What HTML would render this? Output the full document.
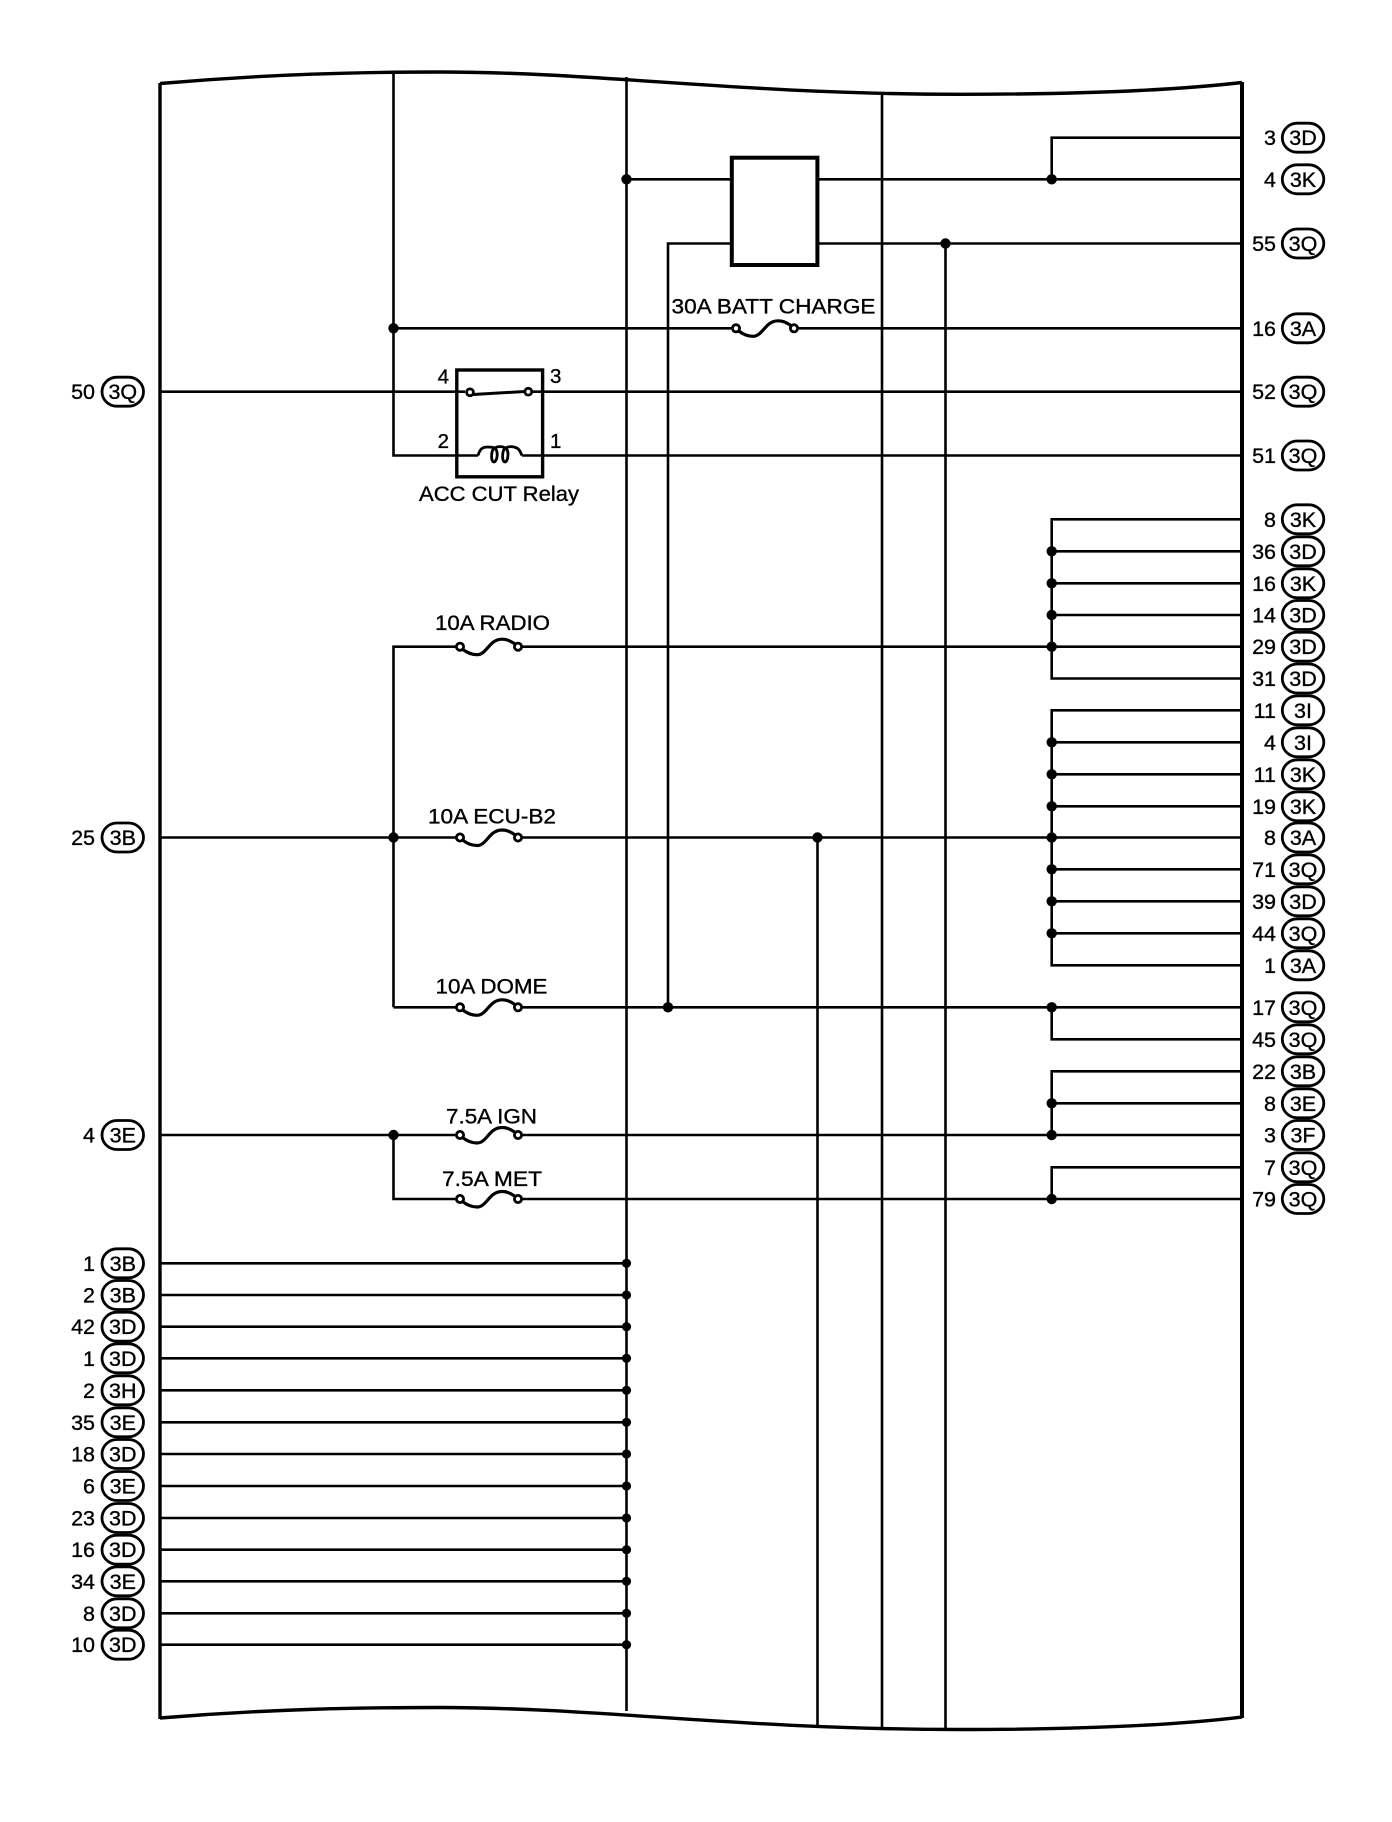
<!DOCTYPE html>
<html><head><meta charset="utf-8"><style>
html,body{margin:0;padding:0;background:#fff}
svg{display:block}
text{font-family:"Liberation Sans",sans-serif;font-size:21.5px;fill:#000;stroke:#000;stroke-width:.35}
.c{text-anchor:middle}.e{text-anchor:end}
</style></head><body>
<svg width="1392" height="1822" viewBox="0 0 1392 1822" xmlns="http://www.w3.org/2000/svg">
<defs>
<g id="f" fill="none" stroke="#000" stroke-width="2.8"><circle cx="0" cy="0" r="3.6" fill="#fff"/><circle cx="58" cy="0" r="3.6" fill="#fff"/><path d="M2.5,2.5 C7,6 11,8 17,8 C27,8 29,-7.5 42,-7.5 C48,-7.5 51,-5 55.5,-2.5" stroke-width="3.2"/></g>
<rect id="p" x="0" y="-14.5" width="41.5" height="29" rx="15" ry="14.5" fill="#fff" stroke="#000" stroke-width="2.8"/>
<circle id="d" r="5.2" fill="#000"/>
<circle id="s" r="4.6" fill="#000"/>
</defs>
<rect width="1392" height="1822" fill="#fff"/>
<!-- frame -->
<g fill="none" stroke="#000">
<path d="M160,83.5 C270,74 360,72 440,72 C600,72 740,94.3 960,94.3 C1060,94.3 1160,92 1242,82.5" stroke-width="3.4"/>
<path d="M160,1718 C270,1709 360,1707.5 440,1707.5 C600,1707.5 740,1729.5 960,1729.5 C1060,1729.5 1160,1727 1242,1717" stroke-width="3.4"/>
<path d="M160,83 V1719" stroke-width="3.4"/>
<path d="M1242,82 V1718" stroke-width="4"/>
</g>
<!-- wires -->
<g fill="none" stroke="#000" stroke-width="2.6">
<path d="M393.5,72 V455.5 H478"/>
<path d="M522,455.5 H1242"/>
<path d="M626.5,77 V1711"/>
<path d="M882,92 V1727"/>
<path d="M945.5,243.5 V1729"/>
<path d="M817.5,837.5 V1725"/>
<path d="M668,1007.3 V243.5 H732"/>
<path d="M626.5,179.3 H732"/>
<path d="M818,179.3 H1242"/>
<path d="M818,243.5 H1242"/>
<path d="M1051.7,179.3 V137.7 H1242"/>
<path d="M393.5,328.3 H733"/><path d="M796,328.3 H1242"/>
<path d="M160,391.7 H465"/><path d="M533,391.7 H1242"/>
<path d="M1242,519.3 H1051.7 V678.5 H1242"/>
<path d="M1051.7,551.3 H1242M1051.7,583.3 H1242M1051.7,615 H1242"/>
<path d="M393.5,1007.3 V646.7 H457"/><path d="M521,646.7 H1242"/>
<path d="M160,837.5 H457"/><path d="M521,837.5 H1242"/>
<path d="M1242,710.3 H1051.7 V965.3 H1242"/>
<path d="M1051.7,742.3 H1242M1051.7,774.3 H1242M1051.7,806.3 H1242M1051.7,869.3 H1242M1051.7,901.3 H1242M1051.7,933.3 H1242"/>
<path d="M393.5,1007.3 H457"/><path d="M521,1007.3 H1242"/>
<path d="M1051.7,1007.3 V1039.3 H1242"/>
<path d="M1242,1071.3 H1051.7 V1135"/>
<path d="M1051.7,1103.3 H1242"/>
<path d="M160,1135 H457"/><path d="M521,1135 H1242"/>
<path d="M393.5,1135 V1199 H457"/><path d="M521,1199 H1242"/>
<path d="M1242,1167.3 H1051.7 V1199"/>
<path d="M160,1263.3 H626M160,1295 H626M160,1326.7 H626M160,1358.3 H626M160,1390.3 H626M160,1422.3 H626M160,1454 H626M160,1486 H626M160,1518 H626M160,1549.7 H626M160,1581.3 H626M160,1613.3 H626M160,1644.7 H626"/>
</g>
<!-- relay -->
<g fill="none" stroke="#000">
<rect x="456.8" y="370" width="85.8" height="106.8" stroke-width="3.4"/>
<rect x="731.8" y="157.7" width="85.6" height="107.3" stroke-width="4"/>
<circle cx="470" cy="392.3" r="3.4" fill="#fff" stroke-width="2.8"/>
<circle cx="528.3" cy="391.7" r="3.4" fill="#fff" stroke-width="2.8"/>
<path d="M473,394.5 L525,391.5" stroke-width="3"/>
<path d="M478,455.5 C480,449 482,447 488,447 C494,447 496,448 497,452 C498,459 495,462 494,462 C492,462 491,458 492,452 C493,447 499,446 503,447 C507,448 508,451 508,454 C508,460 506,462 505,462 C503,462 502,458 503,452 C504,447 510,446 514,447 C519,448 520,451 522,455.5" stroke-width="2.8"/>
</g>
<!-- fuses -->
<use href="#f" x="736" y="328.3"/>
<use href="#f" x="460" y="646.7"/>
<use href="#f" x="460" y="837.5"/>
<use href="#f" x="460" y="1007.3"/>
<use href="#f" x="460" y="1135"/>
<use href="#f" x="460" y="1199"/>
<!-- dots -->
<use href="#d" x="393.5" y="328.3"/><use href="#d" x="393.5" y="837.5"/><use href="#d" x="393.5" y="1135"/>
<use href="#d" x="626.5" y="179.3"/><use href="#d" x="668" y="1007.3"/><use href="#d" x="817.5" y="837.5"/><use href="#d" x="945.5" y="243.5"/>
<use href="#d" x="1051.7" y="179.3"/><use href="#d" x="1051.7" y="551.3"/><use href="#d" x="1051.7" y="583.3"/><use href="#d" x="1051.7" y="615"/><use href="#d" x="1051.7" y="646.7"/>
<use href="#d" x="1051.7" y="742.3"/><use href="#d" x="1051.7" y="774.3"/><use href="#d" x="1051.7" y="806.3"/><use href="#d" x="1051.7" y="837.5"/><use href="#d" x="1051.7" y="869.3"/><use href="#d" x="1051.7" y="901.3"/><use href="#d" x="1051.7" y="933.3"/>
<use href="#d" x="1051.7" y="1007.3"/><use href="#d" x="1051.7" y="1103.3"/><use href="#d" x="1051.7" y="1135"/><use href="#d" x="1051.7" y="1199"/>
<use href="#s" x="626.5" y="1263.3"/><use href="#s" x="626.5" y="1295"/><use href="#s" x="626.5" y="1326.7"/><use href="#s" x="626.5" y="1358.3"/><use href="#s" x="626.5" y="1390.3"/><use href="#s" x="626.5" y="1422.3"/><use href="#s" x="626.5" y="1454"/><use href="#s" x="626.5" y="1486"/><use href="#s" x="626.5" y="1518"/><use href="#s" x="626.5" y="1549.7"/><use href="#s" x="626.5" y="1581.3"/><use href="#s" x="626.5" y="1613.3"/><use href="#s" x="626.5" y="1644.7"/>
<!-- labels -->
<text x="671.5" y="313.3" textLength="204" lengthAdjust="spacingAndGlyphs">30A BATT CHARGE</text>
<text x="419" y="501" textLength="160" lengthAdjust="spacingAndGlyphs">ACC CUT Relay</text>
<text x="435" y="630" textLength="115" lengthAdjust="spacingAndGlyphs">10A RADIO</text>
<text x="428" y="823.5" textLength="128" lengthAdjust="spacingAndGlyphs">10A ECU-B2</text>
<text x="435.5" y="993.3" textLength="112" lengthAdjust="spacingAndGlyphs">10A DOME</text>
<text x="446" y="1123.3" textLength="91" lengthAdjust="spacingAndGlyphs">7.5A IGN</text>
<text x="442" y="1186" textLength="100" lengthAdjust="spacingAndGlyphs">7.5A MET</text>
<text text-anchor="end" x="449" y="383.5" style="font-size:20.5px">4</text>
<text x="550" y="383" style="font-size:20.5px">3</text>
<text text-anchor="end" x="449" y="448" style="font-size:20.5px">2</text>
<text x="550" y="448" style="font-size:20.5px">1</text>
<!-- left connectors -->
<g transform="translate(102,0)">
<use href="#p" y="391.7"/><use href="#p" y="837.5"/><use href="#p" y="1135"/>
<use href="#p" y="1263.3"/><use href="#p" y="1295"/><use href="#p" y="1326.7"/><use href="#p" y="1358.3"/><use href="#p" y="1390.3"/><use href="#p" y="1422.3"/><use href="#p" y="1454"/><use href="#p" y="1486"/><use href="#p" y="1518"/><use href="#p" y="1549.7"/><use href="#p" y="1581.3"/><use href="#p" y="1613.3"/><use href="#p" y="1644.7"/>
</g>
<g text-anchor="end">
<text x="95" y="399.2">50</text><text x="95" y="845">25</text><text x="95" y="1142.5">4</text>
<text x="95" y="1270.8">1</text><text x="95" y="1302.5">2</text><text x="95" y="1334.2">42</text><text x="95" y="1365.8">1</text><text x="95" y="1397.8">2</text><text x="95" y="1429.8">35</text><text x="95" y="1461.5">18</text><text x="95" y="1493.5">6</text><text x="95" y="1525.5">23</text><text x="95" y="1557.2">16</text><text x="95" y="1588.8">34</text><text x="95" y="1620.8">8</text><text x="95" y="1652.2">10</text>
</g>
<g text-anchor="middle">
<text x="122.8" y="399.2">3Q</text><text x="122.8" y="845">3B</text><text x="122.8" y="1142.5">3E</text>
<text x="122.8" y="1270.8">3B</text><text x="122.8" y="1302.5">3B</text><text x="122.8" y="1334.2">3D</text><text x="122.8" y="1365.8">3D</text><text x="122.8" y="1397.8">3H</text><text x="122.8" y="1429.8">3E</text><text x="122.8" y="1461.5">3D</text><text x="122.8" y="1493.5">3E</text><text x="122.8" y="1525.5">3D</text><text x="122.8" y="1557.2">3D</text><text x="122.8" y="1588.8">3E</text><text x="122.8" y="1620.8">3D</text><text x="122.8" y="1652.2">3D</text>
</g>
<!-- right connectors -->
<g transform="translate(1282.3,0)">
<use href="#p" y="137.7"/><use href="#p" y="179.3"/><use href="#p" y="243.5"/><use href="#p" y="328.3"/><use href="#p" y="391.7"/><use href="#p" y="455.5"/>
<use href="#p" y="519.3"/><use href="#p" y="551.3"/><use href="#p" y="583.3"/><use href="#p" y="615"/><use href="#p" y="646.7"/><use href="#p" y="678.5"/>
<use href="#p" y="710.3"/><use href="#p" y="742.3"/><use href="#p" y="774.3"/><use href="#p" y="806.3"/><use href="#p" y="837.5"/><use href="#p" y="869.3"/><use href="#p" y="901.3"/><use href="#p" y="933.3"/><use href="#p" y="965.3"/>
<use href="#p" y="1007.3"/><use href="#p" y="1039.3"/><use href="#p" y="1071.3"/><use href="#p" y="1103.3"/><use href="#p" y="1135"/><use href="#p" y="1167.3"/><use href="#p" y="1199"/>
</g>
<g text-anchor="end">
<text x="1276" y="145.2">3</text><text x="1276" y="186.8">4</text><text x="1276" y="251">55</text><text x="1276" y="335.8">16</text><text x="1276" y="399.2">52</text><text x="1276" y="463">51</text>
<text x="1276" y="526.8">8</text><text x="1276" y="558.8">36</text><text x="1276" y="590.8">16</text><text x="1276" y="622.5">14</text><text x="1276" y="654.2">29</text><text x="1276" y="686">31</text>
<text x="1276" y="717.8">11</text><text x="1276" y="749.8">4</text><text x="1276" y="781.8">11</text><text x="1276" y="813.8">19</text><text x="1276" y="845">8</text><text x="1276" y="876.8">71</text><text x="1276" y="908.8">39</text><text x="1276" y="940.8">44</text><text x="1276" y="972.8">1</text>
<text x="1276" y="1014.8">17</text><text x="1276" y="1046.8">45</text><text x="1276" y="1078.8">22</text><text x="1276" y="1110.8">8</text><text x="1276" y="1142.5">3</text><text x="1276" y="1174.8">7</text><text x="1276" y="1206.5">79</text>
</g>
<g text-anchor="middle">
<text x="1303" y="145.2">3D</text><text x="1303" y="186.8">3K</text><text x="1303" y="251">3Q</text><text x="1303" y="335.8">3A</text><text x="1303" y="399.2">3Q</text><text x="1303" y="463">3Q</text>
<text x="1303" y="526.8">3K</text><text x="1303" y="558.8">3D</text><text x="1303" y="590.8">3K</text><text x="1303" y="622.5">3D</text><text x="1303" y="654.2">3D</text><text x="1303" y="686">3D</text>
<text x="1303" y="717.8">3I</text><text x="1303" y="749.8">3I</text><text x="1303" y="781.8">3K</text><text x="1303" y="813.8">3K</text><text x="1303" y="845">3A</text><text x="1303" y="876.8">3Q</text><text x="1303" y="908.8">3D</text><text x="1303" y="940.8">3Q</text><text x="1303" y="972.8">3A</text>
<text x="1303" y="1014.8">3Q</text><text x="1303" y="1046.8">3Q</text><text x="1303" y="1078.8">3B</text><text x="1303" y="1110.8">3E</text><text x="1303" y="1142.5">3F</text><text x="1303" y="1174.8">3Q</text><text x="1303" y="1206.5">3Q</text>
</g>
</svg>
</body></html>
